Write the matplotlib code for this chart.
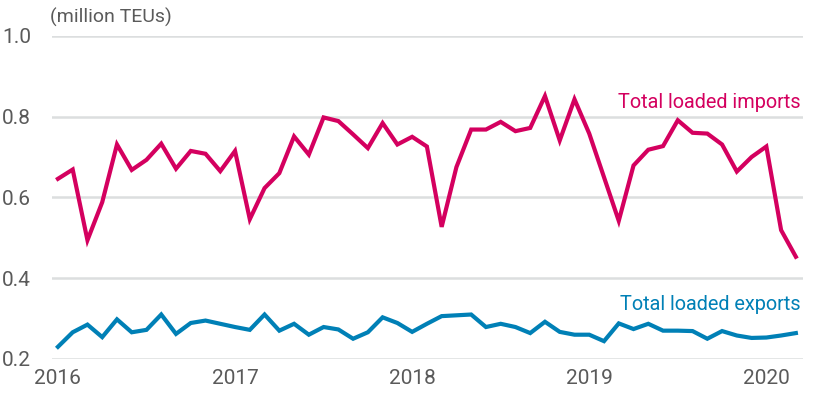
import matplotlib
matplotlib.use("Agg")
import matplotlib.pyplot as plt

# monthly, Jan 2016 .. Mar 2020 (million TEUs)
imports = [0.646, 0.669, 0.494, 0.588, 0.731, 0.668, 0.693, 0.733, 0.671, 0.715, 0.708, 0.665,
           0.715, 0.546, 0.623, 0.660, 0.751, 0.706, 0.798, 0.789, 0.756, 0.722, 0.784, 0.731,
           0.750, 0.726, 0.527, 0.675, 0.768, 0.768, 0.787, 0.764, 0.772, 0.851, 0.741, 0.843,
           0.758, 0.650, 0.542, 0.679, 0.718, 0.727, 0.791, 0.760, 0.758, 0.731, 0.664, 0.700,
           0.726, 0.519, 0.453]
exports = [0.230, 0.266, 0.285, 0.254, 0.298, 0.266, 0.272, 0.310, 0.262, 0.289, 0.295, 0.287,
           0.279, 0.272, 0.310, 0.270, 0.287, 0.260, 0.279, 0.273, 0.250, 0.266, 0.303, 0.289,
           0.267, 0.287, 0.306, 0.308, 0.310, 0.279, 0.287, 0.279, 0.264, 0.292, 0.267, 0.260,
           0.260, 0.244, 0.288, 0.274, 0.287, 0.270, 0.270, 0.269, 0.250, 0.269, 0.258, 0.252,
           0.253, 0.258, 0.264]
year_labels = ["2016", "2017", "2018", "2019", "2020"]
y_ticks = [0.2, 0.4, 0.6, 0.8, 1.0]

imp_color = "#D4005F"
exp_color = "#0080B6"
text_color = "#5A5A5A"

plt.rcParams['font.family'] = ['Roboto', 'DejaVu Sans']

fig = plt.figure(figsize=(8.13, 3.94), dpi=100)
ax = fig.add_axes([0.064, 0.089, 0.924, 0.82])

months = list(range(len(imports)))
ax.plot(months, imports, color=imp_color, lw=3.0, solid_joinstyle='miter', zorder=3)
ax.plot(months, exports, color=exp_color, lw=3.0, solid_joinstyle='miter', zorder=3)

ax.set_xlim(-0.4, 50.5)
ax.set_ylim(0.2, 1.0)
ax.set_yticks(y_ticks)
ax.set_yticklabels([f"{v:.1f}" for v in y_ticks])
ax.set_xticks(range(0, 12 * len(year_labels), 12))
ax.set_xticklabels(year_labels)

ax.grid(axis='y', color='#DCDEDF', lw=1.8)
ax.set_axisbelow(True)
for s in ax.spines.values():
    s.set_visible(False)
ax.tick_params(length=0, labelsize=15, colors=text_color)
ax.tick_params(axis='y', pad=15)
ax.tick_params(axis='x', pad=7)

ax.text(50.3, 0.835, "Total loaded imports", color=imp_color, fontsize=14.3,
        ha='right', va='center')
ax.text(50.3, 0.336, "Total loaded exports", color=exp_color, fontsize=14.3,
        ha='right', va='center')
fig.text(0.062, 0.955, "(million TEUs)", color=text_color, fontsize=14,
         ha='left', va='center')

fig.savefig("out.png", dpi=100)
